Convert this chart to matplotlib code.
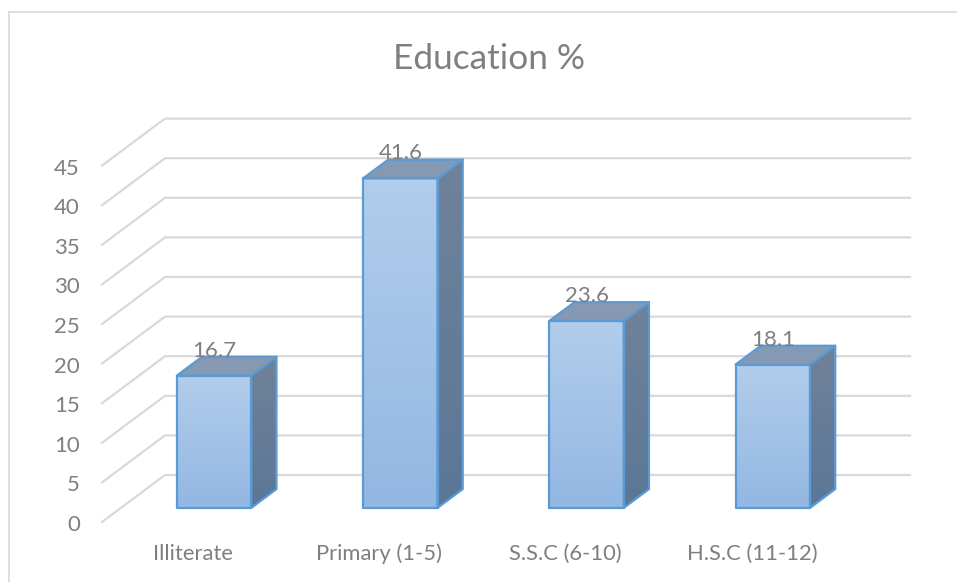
import matplotlib
matplotlib.use("Agg")
import matplotlib.pyplot as plt
from matplotlib.colors import LinearSegmentedColormap
from matplotlib.lines import Line2D
from matplotlib.patches import Polygon
import numpy as np

plt.rcParams['font.family'] = ['Lato', 'DejaVu Sans']

categories = ["Illiterate", "Primary (1-5)", "S.S.C (6-10)", "H.S.C (11-12)"]
values = [16.7, 41.6, 23.6, 18.1]
y_ticks = [0, 5, 10, 15, 20, 25, 30, 35, 40, 45]

W, H = 957, 582
# size of one category and one value unit on the screen, in pixels
CAT_PX = 186.25
VAL_PX = 7.92
# the floor runs back 63 px right and 47 px up
DEPTH_X = 63 / CAT_PX
DEPTH_Y = 47 / VAL_PX
ORIGIN_X, ORIGIN_Y = 102, 522

BAR_W = 0.4
D_FRONT, D_BACK = 0.3, 0.7

GRID = "#d9d9d9"
TEXT = "#7f7f7f"
EDGE = "#5b9bd5"

front_cmap = LinearSegmentedColormap.from_list("front", ["#b2cdeb", "#93b7e3"])
side_cmap = LinearSegmentedColormap.from_list("side", ["#708299", "#5b7796"])


def proj(c, v, d=0.0):
    return c + d * DEPTH_X, v + d * DEPTH_Y


def gradient_face(ax, corners, cmap):
    # vertical gradient clipped to the outline of the face
    xs = [p[0] for p in corners]
    ys = [p[1] for p in corners]
    img = ax.imshow(np.linspace(0, 1, 64).reshape(-1, 1), cmap=cmap, aspect="auto",
                    extent=(min(xs), max(xs), min(ys), max(ys)), origin="upper", zorder=3)
    outline = Polygon(corners, closed=True, facecolor="none", edgecolor=EDGE,
                      linewidth=1.6, joinstyle="round", zorder=4)
    ax.add_patch(outline)
    img.set_clip_path(outline)


fig = plt.figure(figsize=(W / 100, H / 100), dpi=100)
ax = fig.add_axes([0, 0, 1, 1])
ax.axis("off")

# chart border, only top and left show in the picture
fig.add_artist(Line2D([9 / W, 9 / W], [0, 1 - 12 / H], color=GRID, lw=1.2))
fig.add_artist(Line2D([9 / W, 1], [1 - 12 / H, 1 - 12 / H], color=GRID, lw=1.2))

c_left, c_right = -0.5, len(categories) - 0.5
for t in y_ticks:
    x0, y0 = proj(c_left, t, 0)
    x1, y1 = proj(c_left, t, 1)
    x2, y2 = proj(c_right, t, 1)
    ax.plot([x0, x1, x2], [y0, y1, y2], color=GRID, lw=1.6, zorder=1, solid_joinstyle="miter")
    ax.annotate(str(t), (x0, y0), xytext=(-22, -3), textcoords="offset pixels",
                ha="right", va="center", color=TEXT, fontsize=16)

for i, (name, val) in enumerate(zip(categories, values)):
    l, r = i - BAR_W / 2, i + BAR_W / 2
    front = [proj(l, 0, D_FRONT), proj(r, 0, D_FRONT), proj(r, val, D_FRONT), proj(l, val, D_FRONT)]
    side = [proj(r, 0, D_FRONT), proj(r, 0, D_BACK), proj(r, val, D_BACK), proj(r, val, D_FRONT)]
    top = [proj(l, val, D_FRONT), proj(r, val, D_FRONT), proj(r, val, D_BACK), proj(l, val, D_BACK)]

    gradient_face(ax, side, side_cmap)
    ax.add_patch(Polygon(top, closed=True, facecolor="#8599b3", edgecolor=EDGE,
                         linewidth=1.6, joinstyle="round", zorder=4))
    gradient_face(ax, front, front_cmap)

    ax.annotate(f"{val}", proj(i, val, D_FRONT), xytext=(0, 25), textcoords="offset pixels",
                ha="center", va="center", color=TEXT, fontsize=16, zorder=6)
    ax.annotate(name, proj(i, 0, 0), xytext=(-2, -32), textcoords="offset pixels",
                ha="center", va="center", color=TEXT, fontsize=15.8)

ax.set_xlim((0 - ORIGIN_X) / CAT_PX - 0.5, (W - ORIGIN_X) / CAT_PX - 0.5)
ax.set_ylim((ORIGIN_Y - H) / VAL_PX, ORIGIN_Y / VAL_PX)

ax.text(0.511, 1 - 59 / H, "Education %", transform=ax.transAxes, ha="center", va="center",
        color=TEXT, fontsize=25.4)

fig.savefig("out.png", dpi=100, facecolor="white")
